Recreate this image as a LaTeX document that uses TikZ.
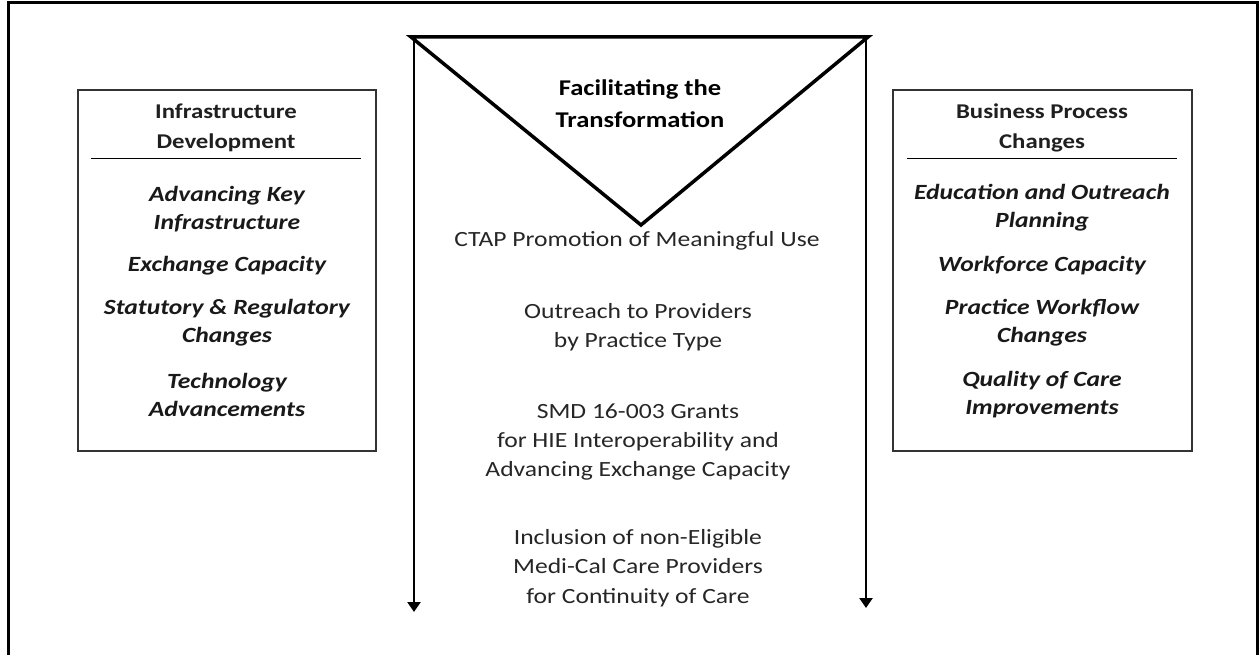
\documentclass[tikz,border=0pt]{standalone}
\usepackage{fontspec}
\setmainfont{Carlito}[FakeStretch=1.18]
\usetikzlibrary{arrows.meta}
\begin{document}
\begin{tikzpicture}[x=1pt,y=-1pt,
  txt/.style={align=center,font=\fontsize{21.7}{29.3}\selectfont,inner sep=0pt,text=black!85},
  itm/.style={align=center,font=\fontsize{21.7}{28}\selectfont\bfseries\itshape,inner sep=0pt,text=black!90},
  hdr/.style={align=center,font=\fontsize{21}{30}\selectfont\bfseries,inner sep=0pt,text=black!88},
  sidebox/.style={draw=black!80,line width=1.3pt},
  arr/.style={line width=2.4pt,-{Triangle[length=10pt,width=13pt]}}]
\useasboundingbox (0,0) rectangle (1259,655);
% outer frame
\draw[line width=3pt] (8,660) -- (8,3) -- (1257,3) -- (1257,660);
% triangle
\coordinate (tl) at (411,37);
\coordinate (tr) at (868,37);
\coordinate (ap) at (641,225);
\draw[line width=3.5pt,line join=miter] (tl) -- (tr) -- (ap) -- cycle;
\coordinate (la) at (414,38);
\coordinate (lb) at (414,612);
\coordinate (ra) at (866,38);
\coordinate (rb) at (866,608);
\draw[arr] (la) -- (lb);
\draw[arr] (ra) -- (rb);
\node[font=\fontsize{22.5}{32}\selectfont\bfseries,align=center,inner sep=0pt] (title) at (640,104) {Facilitating the\\Transformation};
% middle texts
\node[txt] (m1) at (637,241) {CTAP Promotion of Meaningful Use};
\node[txt] (m2) at (638,327) {Outreach to Providers\\by Practice Type};
\node[txt] (m3) at (638,442) {SMD 16-003 Grants\\for HIE Interoperability and\\Advancing Exchange Capacity};
\node[txt] (m4) at (638,568) {Inclusion of non-Eligible\\Medi-Cal Care Providers\\for Continuity of Care};
% left box
\node[sidebox,minimum width=298pt,minimum height=361pt,inner sep=0pt] (lbox) at (227,270.5) {};
\node[hdr] (lh) at (226,128) {Infrastructure\\Development};
\draw[line width=1pt] (91,159) -- (361,159);
\node[itm] (l1) at (227,209) {Advancing Key\\Infrastructure};
\node[itm] (l2) at (227,266) {Exchange Capacity};
\node[itm] (l3) at (227,323) {Statutory \& Regulatory\\Changes};
\node[itm] (l4) at (227,395) {Technology\\Advancements};
% right box
\node[sidebox,minimum width=299pt,minimum height=361pt,inner sep=0pt] (rbox) at (1042.5,270.5) {};
\node[hdr] (rh) at (1042,128) {Business Process\\Changes};
\draw[line width=1pt] (907,159) -- (1177,159);
\node[itm] (r1) at (1042,208) {Education and Outreach\\Planning};
\node[itm] (r2) at (1042,266) {Workforce Capacity};
\node[itm] (r3) at (1042,323) {Practice Workflow\\Changes};
\node[itm] (r4) at (1042,395) {Quality of Care\\Improvements};
\end{tikzpicture}
\end{document}
